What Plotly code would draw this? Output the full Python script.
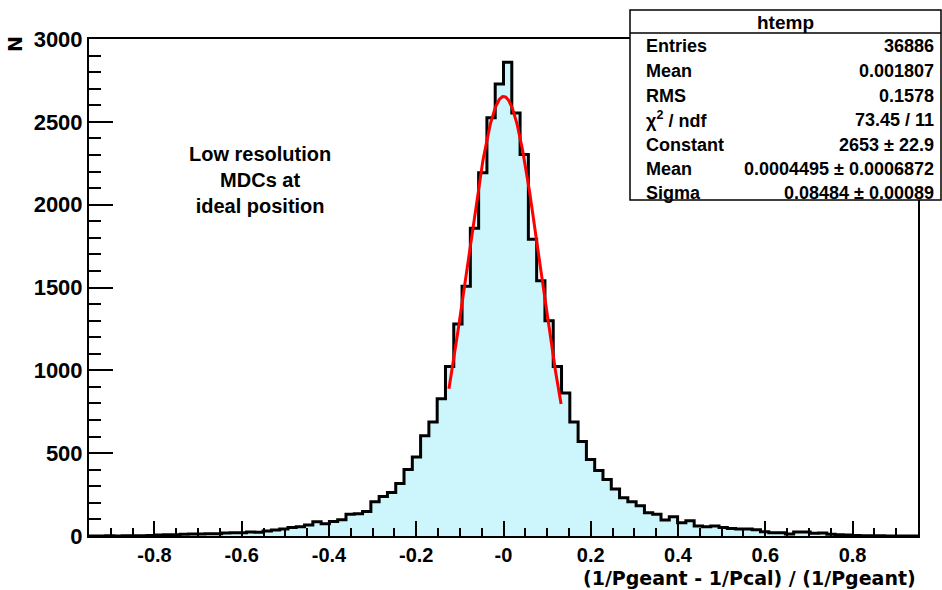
import numpy as np
import plotly.graph_objects as go

# histogram "htemp": 100 equal bins between -0.95 and 0.95
x_min, x_max = -0.95, 0.95
bin_counts = [
    0, 0, 1, 0, 1, 2, 2, 3, 6, 8,
    8, 10, 12, 12, 14, 14, 18, 20, 20, 24,
    22, 30, 36, 42, 52, 56, 66, 86, 74, 88,
    98, 132, 134, 148, 206, 238, 263, 317, 401, 477,
    605, 688, 828, 1023, 1280, 1507, 1858, 2193, 2524, 2729,
    2860, 2554, 2303, 1792, 1541, 1300, 1023, 863, 688, 570,
    462, 395, 341, 283, 231, 207, 183, 140, 132, 96,
    116, 80, 92, 60, 56, 60, 52, 46, 42, 42,
    38, 26, 20, 20, 12, 24, 24, 16, 18, 10,
    8, 6, 3, 2, 1, 1, 0, 0, 0, 0,
]

# gaussian fit (parameters as printed in the stats box)
fit_const = 2653
fit_mean = 0.0004495
fit_sigma = 0.08484
fit_lo, fit_hi = -0.125, 0.132

stats_names = ["Entries", "Mean", "RMS", "χ<sup>2</sup> / ndf",
               "Constant", "Mean", "Sigma"]
stats_values = ["36886", "0.001807", "0.1578", "73.45 / 11",
                "2653 ± 22.9", "0.0004495 ± 0.0006872", "0.08484 ± 0.00089"]

x_tickvals = [-0.8, -0.6, -0.4, -0.2, 0.0, 0.2, 0.4, 0.6, 0.8]
x_ticktext = ["-0.8", "-0.6", "-0.4", "-0.2", "-0", "0.2", "0.4", "0.6", "0.8"]

# plot area in pixels (used to place the overlay boxes)
L, R, T, B = 89, 918, 39, 536


def px_x(px):
    return (px - L) / (R - L)


def px_y(py):
    return (B - py) / (B - T)


edges = np.linspace(x_min, x_max, len(bin_counts) + 1)
steps_y = bin_counts + [bin_counts[-1]]

fit_x = np.linspace(fit_lo, fit_hi, 200)
fit_y = fit_const * np.exp(-0.5 * ((fit_x - fit_mean) / fit_sigma) ** 2)

fig = go.Figure()
fig.add_trace(go.Scatter(
    x=edges, y=steps_y, mode="lines", line_shape="hv",
    line=dict(color="black", width=3),
    fill="tozeroy", fillcolor="#ccf6fc",
))
fig.add_trace(go.Scatter(
    x=fit_x, y=fit_y, mode="lines",
    line=dict(color="#ff0000", width=3),
))

xtick_font = dict(family="Liberation Sans", size=20, color="black", weight="bold")
ytick_font = dict(family="Liberation Sans", size=22, color="black", weight="bold")
title_font = dict(family="DejaVu Sans", size=19, color="black", weight="bold")

fig.update_layout(
    width=942, height=590,
    margin=dict(l=L, r=942 - R, t=T, b=590 - B),
    paper_bgcolor="white", plot_bgcolor="white",
    showlegend=False,
    xaxis=dict(
        range=[x_min, x_max], showgrid=False, zeroline=False,
        showline=True, mirror=True, linecolor="black", linewidth=2,
        ticks="inside", ticklen=15, tickwidth=1.5, tickcolor="black",
        tickmode="array", tickvals=x_tickvals, ticktext=x_ticktext,
        tickfont=xtick_font,
        minor=dict(ticks="inside", ticklen=8, tickwidth=1.5,
                   tickcolor="black", dtick=0.05, tick0=0),
    ),
    yaxis=dict(
        range=[0, 3000], showgrid=False, zeroline=False,
        showline=True, mirror=True, linecolor="black", linewidth=2,
        ticks="inside", ticklen=24, tickwidth=1.5, tickcolor="black",
        dtick=500, tick0=0, tickfont=ytick_font,
        minor=dict(ticks="inside", ticklen=12, tickwidth=1.5,
                   tickcolor="black", dtick=100),
    ),
)

# stats box
box_l, box_r, box_t, box_b, box_sep = 630, 941, 10, 200, 33
fig.add_shape(type="rect", xref="paper", yref="paper",
              x0=px_x(box_l), x1=px_x(box_r), y0=px_y(box_b), y1=px_y(box_t),
              line=dict(color="black", width=1.5), fillcolor="white",
              layer="above")
fig.add_shape(type="line", xref="paper", yref="paper",
              x0=px_x(box_l), x1=px_x(box_r), y0=px_y(box_sep), y1=px_y(box_sep),
              line=dict(color="black", width=1.5), layer="above")

stats_font = dict(family="Liberation Sans", size=18, color="black", weight="bold")
fig.add_annotation(xref="paper", yref="paper", x=px_x((box_l + box_r) / 2),
                   y=px_y(22), text="htemp", showarrow=False,
                   xanchor="center", yanchor="middle",
                   font=dict(family="Liberation Sans", size=19, color="black",
                             weight="bold"))
row_y = [46, 71, 96, 120, 145, 169, 193]
for name, value, ry in zip(stats_names, stats_values, row_y):
    fig.add_annotation(xref="paper", yref="paper", x=px_x(644), y=px_y(ry),
                       text=name, showarrow=False, xanchor="left",
                       yanchor="middle", font=stats_font)
    fig.add_annotation(xref="paper", yref="paper", x=px_x(936), y=px_y(ry),
                       text=value, showarrow=False, xanchor="right",
                       yanchor="middle", font=stats_font)

# axis titles
fig.add_annotation(xref="paper", yref="paper", x=1.0, y=px_y(578),
                   text="(1/Pgeant - 1/Pcal) / (1/Pgeant)", showarrow=False,
                   xanchor="right", yanchor="middle", font=title_font)
fig.add_annotation(xref="paper", yref="paper", x=px_x(15), y=px_y(44),
                   text="N", textangle=-90, showarrow=False,
                   xanchor="center", yanchor="middle", font=title_font)

# label in the plot
fig.add_annotation(xref="paper", yref="paper", x=px_x(260), y=px_y(180),
                   text="Low resolution<br>MDCs at<br>ideal position",
                   showarrow=False, align="center",
                   xanchor="center", yanchor="middle",
                   font=dict(family="Liberation Sans", size=20, color="black",
                             weight="bold"))

fig.write_html("out.html", config={"displayModeBar": False},
               post_script="document.body.style.margin='0';")
